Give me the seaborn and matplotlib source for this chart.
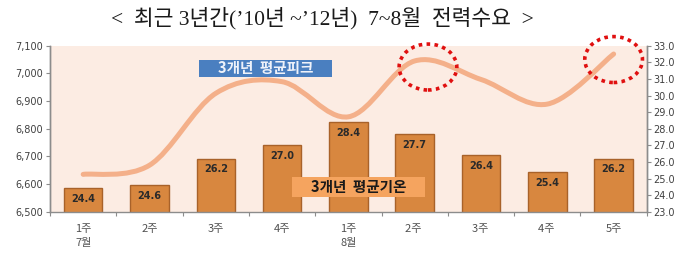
import matplotlib
matplotlib.use("Agg")
import matplotlib.pyplot as plt
import seaborn as sns
import pandas as pd
import numpy as np
from matplotlib.path import Path
from matplotlib.patches import PathPatch, Ellipse, Rectangle
from matplotlib.ticker import FuncFormatter, MultipleLocator

sns.set_theme(style="white")
plt.rcParams['font.family'] = ['Noto Sans CJK KR', 'DejaVu Sans']

# ---- data ----
categories = ["1주\n7월", "2주", "3주", "4주", "1주\n8월", "2주 ", "3주 ", "4주 ", "5주"]
temperature = [24.4, 24.6, 26.2, 27.0, 28.4, 27.7, 26.4, 25.4, 26.2]
peak_demand = [6635, 6668, 6928, 6970, 6843, 7045, 6978, 6889, 7070]
title = "<  최근 3년간(’10년 ~’12년)  7~8월  전력수요  >"
peak_label = "3개년  평균피크"
temp_label = "3개년  평균기온"

df = pd.DataFrame({"cat": categories, "temp": temperature, "peak": peak_demand})

fig = plt.figure(figsize=(6.91, 2.54), dpi=100)
ax_bar = fig.add_axes([0.0724, 0.1665, 0.8636, 0.6535])
ax_bar.set_facecolor("#fcece3")
ax_line = ax_bar.twinx()

sns.barplot(data=df, x="cat", y="temp", ax=ax_bar, color="#d8873f",
            width=0.58, saturation=1, edgecolor="#a8622a", linewidth=1.0)
ax_bar.set_ylim(23.0, 33.0)
ax_bar.yaxis.set_major_locator(MultipleLocator(1.0))
ax_bar.yaxis.set_major_formatter(FuncFormatter(lambda v, p: f"{v:.1f}"))
ax_bar.set_xlabel("")
ax_bar.set_ylabel("")
ax_bar.set_xlim(-0.5, len(categories) - 0.5)

for i, v in enumerate(temperature):
    ax_bar.text(i, v - 0.35, f"{v:.1f}", ha="center", va="top",
                fontsize=7, color="#2a2a2a", family="DejaVu Sans", fontweight="bold")

ax_line.set_ylim(6500, 7100)
ax_line.yaxis.set_major_locator(MultipleLocator(100))
ax_line.yaxis.set_major_formatter(FuncFormatter(lambda v, p: f"{int(v):,}"))

# smooth line (Catmull-Rom rendered as cubic Bezier path through the data points)
xs = np.arange(len(peak_demand), dtype=float)
ys = np.array(peak_demand, dtype=float)
verts = [(xs[0], ys[0])]
codes = [Path.MOVETO]
n = len(xs)
for i in range(n - 1):
    p0 = (xs[max(i - 1, 0)], ys[max(i - 1, 0)])
    p1 = (xs[i], ys[i])
    p2 = (xs[i + 1], ys[i + 1])
    p3 = (xs[min(i + 2, n - 1)], ys[min(i + 2, n - 1)])
    c1 = (p1[0] + (p2[0] - p0[0]) / 6, p1[1] + (p2[1] - p0[1]) / 6)
    c2 = (p2[0] - (p3[0] - p1[0]) / 6, p2[1] - (p3[1] - p1[1]) / 6)
    verts += [c1, c2, p2]
    codes += [Path.CURVE4] * 3
ax_line.add_patch(PathPatch(Path(verts, codes), facecolor="none",
                            edgecolor="#f4b08a", lw=3.6, capstyle="round"))

# red dotted highlight circles
for cx, cy in [(5.2, 7023), (8.0, 7050)]:
    ax_line.add_patch(Ellipse((cx, cy), 0.87, 166, fill=False, edgecolor="#e01010",
                              linestyle=(0, (1, 1.2)), lw=2.6, clip_on=False))

# label boxes
ax_line.add_patch(Rectangle((1.75, 6987), 2.0, 61, facecolor="#4a7fc0", edgecolor="none"))
ax_line.text(2.75, 7018, peak_label, ha="center", va="center", fontsize=10.5,
             fontweight="bold", color="#eef2fa")
ax_line.add_patch(Rectangle((3.15, 6554), 2.0, 72, facecolor="#f5a45f", edgecolor="none"))
ax_line.text(4.15, 6590, temp_label, ha="center", va="center", fontsize=10.5,
             fontweight="bold", color="#1a1a1a")

# spines and ticks
for ax in (ax_bar, ax_line):
    ax.spines["top"].set_visible(False)
    for s in ("left", "right", "bottom"):
        ax.spines[s].set_color("#8c8c8c")
        ax.spines[s].set_linewidth(1.0)
ax_line.spines["bottom"].set_visible(False)

ax_bar.tick_params(axis="y", which="major", direction="out", length=3, width=0.8,
                   color="#8c8c8c", labelsize=7, labelcolor="#404040", pad=2,
                   right=True, left=False, labelright=True, labelleft=False)
ax_line.tick_params(axis="y", which="major", direction="out", length=3, width=0.8,
                    color="#8c8c8c", labelsize=7, labelcolor="#404040", pad=2,
                    left=True, right=False, labelleft=True, labelright=False)
for lab in ax_bar.get_yticklabels() + ax_line.get_yticklabels():
    lab.set_family("DejaVu Sans")

ax_bar.tick_params(axis="x", which="major", length=0, labelsize=8,
                   labelcolor="#505050", pad=9)
for lab in ax_bar.get_xticklabels():
    lab.set_linespacing(1.5)
ax_bar.set_xticks(np.arange(-0.5, len(categories), 1.0), minor=True)
ax_bar.tick_params(axis="x", which="minor", direction="out", length=3,
                   width=0.8, color="#8c8c8c", bottom=True)

fig.text(0.466, 0.927, title, ha="center", va="center", fontsize=15.5, color="#1a1a1a",
         family=['Liberation Serif', 'Noto Sans CJK KR'])

fig.savefig("out.png", dpi=100)
